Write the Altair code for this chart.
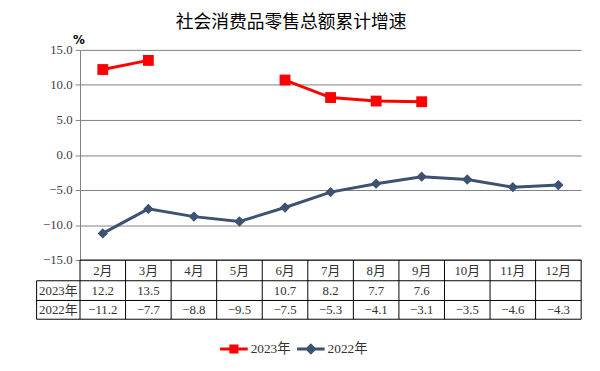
import altair as alt
import pandas as pd

# ---- data ----
months = ["2月", "3月", "4月", "5月", "6月", "7月", "8月", "9月", "10月", "11月", "12月"]
v2023 = [12.2, 13.5, None, None, 10.7, 8.2, 7.7, 7.6, None, None, None]
v2022 = [-11.2, -7.7, -8.8, -9.5, -7.5, -5.3, -4.1, -3.1, -3.5, -4.6, -4.3]
series = ["2023年", "2022年"]
colors = ["#FF0000", "#3D5170"]
y_ticks = [-15, -10, -5, 0, 5, 10, 15]
title_text = "社会消费品零售总额累计增速"

# ---- layout (pixels) ----
W, H = 508, 213
HDR_BOTTOM, R1_BOTTOM, R2_BOTTOM = 234, 254, 273
LABEL_LEFT = -44
SERIF = "Liberation Serif, Noto Sans CJK SC"
GRID = "#808080"

rows = []
for s, vals in zip(series, [v2023, v2022]):
    seg, gap = 0, True
    for m, v in zip(months, vals):
        if v is None:
            gap = True
            continue
        if gap:
            seg += 1
            gap = False
        rows.append(dict(month=m, series=s, value=v, seg=f"{s}-{seg}"))
df = pd.DataFrame(rows)
mdf = pd.DataFrame({"month": months})
one = pd.DataFrame({"k": [0]})

xscale = alt.Scale(type="band", domain=months, paddingInner=0, paddingOuter=0)


def xenc(bp):
    return alt.X("month:N", sort=months, scale=xscale, axis=None, bandPosition=bp)


y = alt.Y(
    "value:Q",
    scale=alt.Scale(domain=[-15, 15], nice=False, zero=False),
    axis=alt.Axis(
        values=y_ticks, format=".1f", grid=True, gridColor=GRID, gridWidth=1,
        domainColor=GRID, tickColor=GRID, tickSize=5, labelPadding=3,
        labelFont=SERIF, labelFontSize=13, labelColor="#404040", title=None,
    ),
)
color_scale = alt.Scale(domain=series, range=colors)


def series_df(s):
    return df[df["series"] == s]


lines = [
    alt.Chart(series_df(s)).mark_line(strokeWidth=3, color=c).encode(
        x=xenc(0.5), y=y, detail="seg:N"
    )
    for s, c in zip(series, colors)
]
pts23 = alt.Chart(series_df(series[0])).mark_point(
    shape="square", filled=True, size=121, opacity=1, color=colors[0]
).encode(x=xenc(0.5), y=y)
pts22 = alt.Chart(series_df(series[1])).mark_point(
    shape="diamond", filled=True, size=110, opacity=1, color=colors[1]
).encode(x=xenc(0.5), y=y)

path23 = "M-1,-0.11H1V0.11H-1ZM-0.33,-0.33H0.33V0.33H-0.33Z"
path22 = "M-1,-0.11H1V0.11H-1ZM0,-0.42L0.42,0L0,0.42L-0.42,0Z"
leg = alt.Legend(
    orient="none", legendX=142, legendY=289, direction="horizontal", title=None,
    symbolSize=784, symbolStrokeWidth=0, symbolOpacity=1,
    labelFont=SERIF, labelFontSize=13.5, labelColor="#333333",
    labelOffset=3, columnPadding=6,
)
legend_layer = alt.Chart(df).mark_point(filled=True, size=0).encode(
    x=xenc(0.5), y=y,
    color=alt.Color("series:N", scale=color_scale, legend=leg),
    shape=alt.Shape("series:N", scale=alt.Scale(domain=series, range=[path23, path22]), legend=leg),
)

# ---- table ----
rule_style = dict(color="black", strokeWidth=1)
vlines = alt.Chart(mdf).mark_rule(**rule_style).encode(
    x=xenc(0), y=alt.value(H), y2=alt.value(R2_BOTTOM)
)
vlast = alt.Chart(mdf.tail(1)).mark_rule(**rule_style).encode(
    x=xenc(1), y=alt.value(H), y2=alt.value(R2_BOTTOM)
)
vleft = alt.Chart(one).mark_rule(**rule_style).encode(
    x=alt.value(LABEL_LEFT), y=alt.value(HDR_BOTTOM), y2=alt.value(R2_BOTTOM)
)
htop = alt.Chart(one).mark_rule(**rule_style).encode(
    x=alt.value(0), x2=alt.value(W), y=alt.value(H)
)
hlines = [
    alt.Chart(one).mark_rule(**rule_style).encode(
        x=alt.value(LABEL_LEFT), x2=alt.value(W), y=alt.value(yy)
    )
    for yy in (HDR_BOTTOM, R1_BOTTOM, R2_BOTTOM)
]

txt = dict(font=SERIF, fontSize=13, color="#333333", baseline="middle", align="center")
month_text = alt.Chart(mdf).mark_text(**txt).encode(
    x=xenc(0.5), y=alt.value((H + HDR_BOTTOM) / 2 + 0.5), text="month:N"
)
val23 = alt.Chart(series_df(series[0])).mark_text(**txt).encode(
    x=xenc(0.5), y=alt.value((HDR_BOTTOM + R1_BOTTOM) / 2 + 0.5),
    text=alt.Text("value:Q", format=".1f"),
)
val22 = alt.Chart(series_df(series[1])).mark_text(**txt).encode(
    x=xenc(0.5), y=alt.value((R1_BOTTOM + R2_BOTTOM) / 2 + 0.5),
    text=alt.Text("value:Q", format=".1f"),
)
lab23 = alt.Chart(one).mark_text(**txt).encode(
    x=alt.value(LABEL_LEFT / 2), y=alt.value((HDR_BOTTOM + R1_BOTTOM) / 2 + 0.5),
    text=alt.value(series[0]),
)
lab22 = alt.Chart(one).mark_text(**txt).encode(
    x=alt.value(LABEL_LEFT / 2), y=alt.value((R1_BOTTOM + R2_BOTTOM) / 2 + 0.5),
    text=alt.value(series[1]),
)
pct = alt.Chart(one).mark_text(
    text="%", font="DejaVu Sans", fontWeight="bold", fontSize=12, color="black",
    baseline="middle", align="center",
).encode(x=alt.value(-1), y=alt.value(-9.5))

chart = alt.layer(
    *lines, vlines, vlast, vleft, htop, *hlines,
    pts23, pts22, legend_layer,
    month_text, val23, val22, lab23, lab22, pct,
).properties(
    width=W, height=H,
    padding={"left": 73, "top": 40, "right": 11, "bottom": 110},
    autosize=alt.AutoSizeParams(type="none"),
    title=alt.TitleParams(
        text=title_text, font=SERIF, fontSize=18, fontWeight="normal",
        color="black", anchor="middle", dx=-40, offset=3,
    ),
    background="white",
).configure_view(stroke=None)

chart.save("out.html", embed_options={"renderer": "svg", "actions": False})
